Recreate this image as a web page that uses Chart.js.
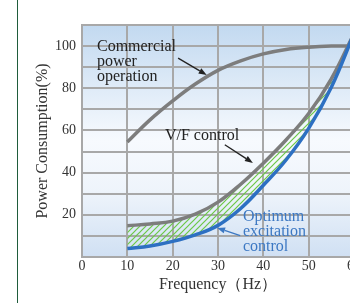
<!DOCTYPE html>
<html><head><meta charset="utf-8">
<script src="https://cdn.jsdelivr.net/npm/chart.js@4"></script>
<style>
html,body{margin:0;padding:0;overflow:hidden;background:#fff;width:350px;height:303px;}
#wrap{position:absolute;left:0;top:0;width:365px;height:303px;}
#edge{position:absolute;left:16.5px;top:0;width:1.6px;height:303px;background:#1f5c3b;}
</style></head><body>
<div id="wrap"><canvas id="c"></canvas></div>
<div id="edge"></div>
<script>
// ---- data ----
const frequencies = [10, 15, 20, 25, 30, 35, 40, 45, 50, 55, 60];
const commercialPower = [54.5, 65, 74, 82, 88.5, 93, 96.3, 98.4, 99.5, 100, 100];
const vfControl = [14.8, 15.7, 17, 20.3, 26, 34.5, 44.5, 55.5, 68, 84.5, 106];
const optimumExcitation = [4, 5.2, 7.4, 10.5, 15, 23, 34, 46, 61, 80.5, 106];
const xTickValues = [0, 10, 20, 30, 40, 50, 60];
const yTickLabels = [20, 40, 60, 80, 100];

const SERIF = "'Liberation Serif', 'Times New Roman', serif";
const toPts = arr => frequencies.map((f, i) => ({x: f, y: arr[i]}));

// hatch pattern
const pc = document.createElement('canvas');
pc.width = 6; pc.height = 6;
const pctx = pc.getContext('2d');
pctx.strokeStyle = '#6cc846';
pctx.lineWidth = 1.2;
pctx.beginPath();
pctx.moveTo(-1, 7); pctx.lineTo(7, -1);
pctx.moveTo(-1, 1); pctx.lineTo(1, -1);
pctx.moveTo(5, 7); pctx.lineTo(7, 5);
pctx.stroke();
const hatch = pctx.createPattern(pc, 'repeat');

const bgPlugin = {
  id: 'bg',
  beforeDraw(chart) {
    const {ctx, chartArea: a} = chart;
    const g = ctx.createLinearGradient(0, a.top, 0, a.bottom);
    g.addColorStop(0, '#c2d9f0');
    g.addColorStop(0.5, '#f7fafe');
    g.addColorStop(0.72, '#eef4fb');
    g.addColorStop(1, '#d0e0f3');
    ctx.save();
    ctx.fillStyle = g;
    ctx.fillRect(a.left, a.top, a.right - a.left, a.bottom - a.top);
    ctx.restore();
  }
};

function arrow(ctx, x1, y1, x2, y2, color) {
  const ang = Math.atan2(y2 - y1, x2 - x1);
  const L = 8, W = 3;
  ctx.save();
  ctx.strokeStyle = color; ctx.fillStyle = color; ctx.lineWidth = 1.3;
  ctx.beginPath();
  ctx.moveTo(x1, y1);
  ctx.lineTo(x2 - L * Math.cos(ang), y2 - L * Math.sin(ang));
  ctx.stroke();
  ctx.beginPath();
  ctx.moveTo(x2, y2);
  ctx.lineTo(x2 - L * Math.cos(ang) + W * Math.sin(ang), y2 - L * Math.sin(ang) - W * Math.cos(ang));
  ctx.lineTo(x2 - L * Math.cos(ang) - W * Math.sin(ang), y2 - L * Math.sin(ang) + W * Math.cos(ang));
  ctx.closePath();
  ctx.fill();
  ctx.restore();
}

const notePlugin = {
  id: 'notes',
  afterDatasetsDraw(chart) {
    const {ctx} = chart;
    const X = v => chart.scales.x.getPixelForValue(v);
    const Y = v => chart.scales.y.getPixelForValue(v);
    const notes = [
      {lines: ['Commercial', 'power', 'operation'], x: 3.3, y: [97.6, 90.5, 83.4], color: '#222'},
      {lines: ['V/F control'], x: 18.3, y: [55.5], color: '#222'},
      {lines: ['Optimum', 'excitation', 'control'], x: 35.5, y: [17.1, 10.1, 3.0], color: '#3c78c3'}
    ];
    const arrows = [
      {from: [21.2, 94.3], to: [27.5, 86.3], color: '#222'},
      {from: [31.5, 53.2], to: [37.7, 44.6], color: '#222'},
      {from: [34.9, 10.1], to: [29.8, 13.8], color: '#3c78c3'}
    ];
    ctx.save();
    ctx.font = '16px ' + SERIF;
    ctx.textAlign = 'left';
    ctx.textBaseline = 'alphabetic';
    notes.forEach(n => {
      ctx.fillStyle = n.color;
      n.lines.forEach((t, i) => ctx.fillText(t, X(n.x), Y(n.y[i])));
    });
    ctx.restore();
    arrows.forEach(a => arrow(ctx, X(a.from[0]), Y(a.from[1]), X(a.to[0]), Y(a.to[1]), a.color));
  }
};

const GRID = '#a8a8a8';
new Chart(document.getElementById('c'), {
  type: 'line',
  data: {
    datasets: [
      {label: 'Commercial power operation', data: toPts(commercialPower), borderColor: '#7d7d7d',
       borderWidth: 3.5, pointRadius: 0, fill: false, tension: 0.4, order: 1},
      {label: 'V/F control', data: toPts(vfControl), borderColor: '#7d7d7d', backgroundColor: hatch,
       borderWidth: 3.5, pointRadius: 0, fill: {target: 2}, tension: 0.4, order: 2},
      {label: 'Optimum excitation control', data: toPts(optimumExcitation), borderColor: '#2d70c2',
       borderWidth: 3.5, pointRadius: 0, fill: false, tension: 0.4, order: 0}
    ]
  },
  options: {
    responsive: true,
    maintainAspectRatio: false,
    animation: false,
    layout: {padding: {left: 33.4, right: 11, top: 25, bottom: 8.4}},
    plugins: {
      legend: {display: false},
      tooltip: {enabled: false},
      filler: {drawTime: 'beforeDatasetsDraw'}
    },
    scales: {
      x: {
        type: 'linear', min: 0, max: 60,
        afterBuildTicks: s => { s.ticks = xTickValues.map(v => ({value: v})); },
        afterFit: s => { s.height = 303 - 8.4 - 257; },
        grid: {color: GRID, lineWidth: 2, drawTicks: false},
        border: {color: GRID, width: 2},
        ticks: {color: '#333', padding: 1, maxRotation: 0, font: {family: SERIF, size: 14}},
        title: {display: true, text: 'Frequency（Hz）', color: '#333', padding: 0, font: {family: SERIF, size: 16}}
      },
      y: {
        min: 0, max: 110,
        afterBuildTicks: s => { const t = []; for (let v = 0; v <= 110; v += 10) t.push({value: v}); s.ticks = t; },
        afterFit: s => { s.width = 82 - 33.4; },
        grid: {color: GRID, lineWidth: 2, drawTicks: false},
        border: {color: GRID, width: 2},
        ticks: {color: '#333', padding: 6, font: {family: SERIF, size: 14},
                callback: v => yTickLabels.includes(v) ? String(v) : ''},
        title: {display: true, text: 'Power Consumption(%)', color: '#333', padding: 0, font: {family: SERIF, size: 16}}
      }
    }
  },
  plugins: [bgPlugin, notePlugin]
});
</script>
</body></html>
